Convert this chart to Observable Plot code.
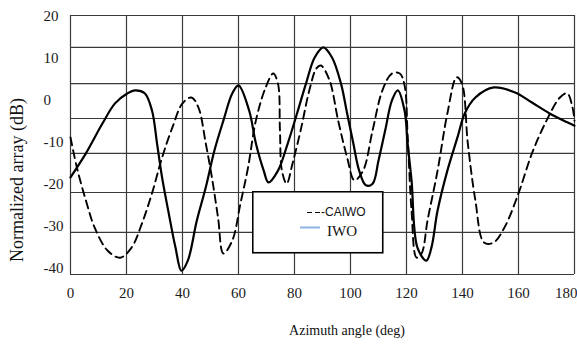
<!DOCTYPE html>
<html>
<head>
<meta charset="utf-8">
<script src="https://cdn.jsdelivr.net/npm/d3@7"></script>
<script src="https://cdn.jsdelivr.net/npm/@observablehq/plot@0.6"></script>
<style>
  html, body { margin: 0; padding: 0; background: #fff; }
  #wrap { position: relative; width: 577px; height: 345px; overflow: hidden; background: #fff; }
  .lbl { position: absolute; font-family: "Liberation Serif", "DejaVu Serif", serif; color: #111; white-space: nowrap; }
  #ylabel { left: 17px; top: 180px; font-size: 18px; transform: translate(-50%, -50%) rotate(-90deg); }
  #xlabel { left: 347px; top: 331px; font-size: 14px; transform: translate(-50%, -50%); }
  #legend { position: absolute; left: 252px; top: 191px; }
  svg text { font-family: "Liberation Serif", "DejaVu Serif", serif; }
</style>
</head>
<body>
<div id="wrap"></div>
<script>
// ---- data (angle in degrees, normalized array in dB) ----
const xTicks = [0, 20, 40, 60, 80, 100, 120, 140, 160, 180];
const yTicks = [-40, -30, -20, -10, 0, 10, 20];
// horizontal grid lines as drawn in the original figure (dB)
const gridY = [20.2, 12.6, 4.0, -4.3, -12.6, -21.9, -31.4, -41.4];

const iwoAngle = [0, 5.5, 11.4, 15.9, 20.4, 22.9, 26.5, 29.1, 30.9, 32.7, 34.9, 37.5, 39.6, 41.9, 45.1, 48.3, 51.4, 54.6, 57.8, 60, 63.8, 66.2, 69.0, 70.7, 74.1, 77.6, 80.9, 84.1, 87.2, 90.3, 93.4, 96.6, 98.8, 101.0, 103.1, 105.5, 107.9, 110.0, 112.4, 114.8, 116.9, 119.3, 120.4, 121.8, 123.9, 127.1, 128.9, 131.1, 134.6, 138.2, 140.8, 144.6, 151.2, 158.8, 164.8, 171.1, 177.4, 180];
const iwoDb = [-18.3, -12.6, -5.5, -0.7, 1.7, 2.4, 1.7, -2.4, -10.2, -18.3, -26.2, -35.0, -40.5, -38.1, -28.6, -20.7, -11.9, -4.8, 1.7, 3.6, -2.4, -10.2, -16.7, -19.5, -16.7, -10.2, -3.1, 4.0, 10.2, 12.6, 10.2, 4.0, -3.1, -10.2, -16.7, -20.2, -19.8, -14.3, -7.1, 0.0, 2.4, -2.4, -10.2, -19.0, -35.0, -38.1, -35.0, -26.2, -16.7, -8.8, -3.1, 0.7, 3.1, 1.9, -0.5, -3.1, -5.2, -6.0];

const caiwoAngle = [0, 2.3, 5.5, 8.6, 13.2, 17.7, 21.8, 25.5, 29.1, 32.7, 36.4, 40, 43.2, 45.7, 48.3, 50.5, 52.7, 54.6, 57.8, 60.7, 63.4, 66.2, 69.7, 72.4, 74.1, 74.8, 75.5, 77.2, 79.3, 82.2, 85.3, 87.8, 89.4, 92.5, 95.6, 98.8, 101.4, 104.5, 107.9, 111.4, 114.8, 117.6, 119.3, 120.4, 121.8, 123.6, 125.4, 127.5, 131.1, 134.6, 137.9, 139.8, 141.9, 144.6, 147.7, 151.1, 155.0, 160, 164.8, 170.0, 174.8, 177.4, 179.3, 180];
const caiwoDb = [-8.8, -16.0, -23.8, -30.2, -35.7, -37.4, -35.0, -29.3, -22.1, -13.6, -6.4, -0.7, 0.7, -1.7, -10.2, -18.3, -27.9, -36.4, -33.3, -24.5, -16.0, -4.8, 3.1, 6.4, 4.0, -7.1, -16.7, -19.8, -15.0, -7.1, 2.4, 7.6, 8.3, 4.8, -4.8, -13.6, -19.0, -16.7, -7.1, 2.4, 6.4, 6.4, 3.6, -8.3, -26.2, -37.4, -36.4, -28.6, -16.7, -3.1, 5.5, 4.0, -10.2, -23.8, -33.8, -33.8, -30.2, -22.1, -12.6, -4.8, 0.7, 1.7, -1.7, -4.8];

const seriesNames = ["--CAIWO", "IWO"];

const iwo = iwoAngle.map((a, i) => ({angle: a, db: iwoDb[i]}));
const caiwo = caiwoAngle.map((a, i) => ({angle: a, db: caiwoDb[i]}));

const serif = "Liberation Serif, DejaVu Serif, serif";

const chart = Plot.plot({
  width: 577,
  height: 345,
  marginLeft: 70,
  marginRight: 3,
  marginTop: 15,
  marginBottom: 71,
  style: {fontFamily: serif, fontSize: "15px", color: "#1a1a1a", background: "#fff"},
  x: {domain: [0, 180]},
  y: {domain: [-41.4, 20.2]},
  marks: [
    Plot.ruleX(xTicks, {stroke: "#3a3a3a", strokeWidth: 1.2}),
    Plot.ruleY(gridY, {stroke: "#3a3a3a", strokeWidth: 1.2}),
    Plot.line(caiwo, {x: "angle", y: "db", stroke: "#000", strokeWidth: 1.9, strokeDasharray: "8,5", curve: "catmull-rom"}),
    Plot.line(iwo, {x: "angle", y: "db", stroke: "#000", strokeWidth: 2.2, curve: "catmull-rom"}),
    Plot.axisX(xTicks.slice(0, -1), {tickSize: 0, tickPadding: 13, tickFormat: d => String(d), label: null, fontFamily: serif, fontSize: 15}),
    Plot.axisX(xTicks.slice(-1), {tickSize: 0, tickPadding: 13, tickFormat: d => String(d), label: null, textAnchor: "end", dx: 3, fontFamily: serif, fontSize: 15}),
    Plot.axisY(yTicks, {tickSize: 0, tickPadding: 27, textAnchor: "start", tickFormat: d => String(d), label: null, fontFamily: serif, fontSize: 15})
  ]
});

const wrap = document.getElementById("wrap");
wrap.appendChild(chart);

const yl = document.createElement("div");
yl.className = "lbl"; yl.id = "ylabel"; yl.textContent = "Normalized array (dB)";
wrap.appendChild(yl);

const xl = document.createElement("div");
xl.className = "lbl"; xl.id = "xlabel"; xl.textContent = "Azimuth angle (deg)";
wrap.appendChild(xl);

// legend box
const ns = "http://www.w3.org/2000/svg";
const lg = document.createElementNS(ns, "svg");
lg.setAttribute("id", "legend");
lg.setAttribute("width", 132);
lg.setAttribute("height", 63);
lg.innerHTML = `
  <rect x="0.75" y="0.75" width="130" height="61" fill="#fff" stroke="#000" stroke-width="1.6"/>
  <line x1="55" y1="21.5" x2="68" y2="21.5" stroke="#000" stroke-width="1.1" stroke-dasharray="5,3"/>
  <text x="69" y="21.5" dominant-baseline="middle" style="font-family: 'Liberation Sans', Arial, sans-serif; font-size: 12px" fill="#111">${seriesNames[0].slice(1)}</text>
  <line x1="48" y1="36.5" x2="68" y2="36.5" stroke="#8db3e2" stroke-width="2"/>
  <text x="75" y="42" dominant-baseline="middle" style="font-family: 'Liberation Serif', 'DejaVu Serif', serif; font-size: 15px" fill="#111">${seriesNames[1]}</text>
`;
wrap.appendChild(lg);
</script>
</body>
</html>
